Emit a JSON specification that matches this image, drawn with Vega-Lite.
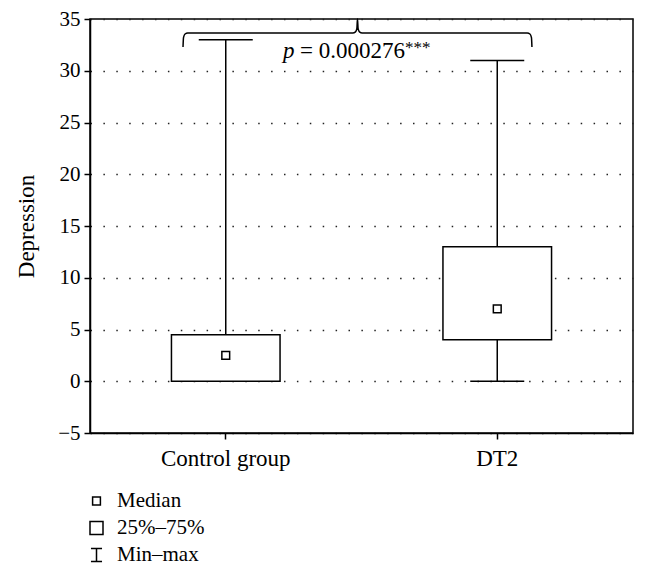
{
  "$schema": "https://vega.github.io/schema/vega-lite/v6.json",
  "width": 543,
  "height": 414,
  "autosize": {"type": "none"},
  "padding": {"left": 90, "top": 19, "right": 15, "bottom": 142},
  "background": "white",
  "config": {
    "view": {"stroke": "black", "strokeWidth": 1.5},
    "font": "Liberation Serif",
    "axis": {
      "labelFont": "Liberation Serif", "labelFontSize": 21, "labelColor": "black",
      "tickColor": "black", "tickWidth": 1.5, "tickSize": 6,
      "domainColor": "black", "domainWidth": 1.5,
      "titleFont": "Liberation Serif", "titleFontSize": 23, "titleFontWeight": "normal", "titleColor": "black"
    }
  },
  "datasets": {
    "boxes": [
      {"group": "Control group", "stat": "Median", "min": 0, "q1": 0, "median": 2.5, "q3": 4.5, "max": 33},
      {"group": "DT2", "stat": "Median", "min": 0, "q1": 4, "median": 7, "q3": 13, "max": 31}
    ],
    "brace": [
      {"bx": 0.1713, "by": 32.3},
      {"bx": 0.1722, "by": 33.2},
      {"bx": 0.1750, "by": 33.55},
      {"bx": 0.1800, "by": 33.65},
      {"bx": 0.4840, "by": 33.65},
      {"bx": 0.4890, "by": 33.75},
      {"bx": 0.4915, "by": 34.1},
      {"bx": 0.4926, "by": 35.0},
      {"bx": 0.4937, "by": 34.1},
      {"bx": 0.4962, "by": 33.75},
      {"bx": 0.5012, "by": 33.65},
      {"bx": 0.8052, "by": 33.65},
      {"bx": 0.8102, "by": 33.55},
      {"bx": 0.8130, "by": 33.2},
      {"bx": 0.8139, "by": 32.3}
    ]
  },
  "layer": [
    {
      "data": {"name": "boxes"},
      "encoding": {
        "x": {
          "field": "group", "type": "nominal", "sort": null,
          "scale": {"type": "band", "paddingInner": 0.6, "paddingOuter": 0.3},
          "axis": {"title": null, "labelAngle": 0, "labelPadding": 8, "labelFontSize": 23, "grid": false}
        }
      },
      "layer": [
        {
          "mark": {"type": "rule", "color": "black", "strokeWidth": 1.5},
          "encoding": {
            "y": {
              "field": "min", "type": "quantitative", "title": "Depression",
              "scale": {"domain": [-5, 35], "nice": false, "zero": false},
              "axis": {
                "values": [-5, 0, 5, 10, 15, 20, 25, 30, 35],
                "grid": true, "gridColor": "#222", "gridWidth": 1.5, "gridDash": [1.5, 11.4],
                "titlePadding": 19, "labelPadding": 4
              }
            },
            "y2": {"field": "max"}
          }
        },
        {
          "mark": {"type": "tick", "color": "black", "thickness": 1.5, "size": 54, "opacity": 1},
          "encoding": {
            "y": {"field": "max", "type": "quantitative", "title": "Depression", "scale": {"domain": [-5, 35], "nice": false, "zero": false}}
          }
        },
        {
          "mark": {"type": "tick", "color": "black", "thickness": 1.5, "size": 54, "opacity": 1},
          "encoding": {
            "y": {"field": "min", "type": "quantitative", "title": "Depression", "scale": {"domain": [-5, 35], "nice": false, "zero": false}}
          }
        },
        {
          "mark": {"type": "bar", "fill": "white", "stroke": "black", "strokeWidth": 1.5, "opacity": 1},
          "encoding": {
            "y": {"field": "q1", "type": "quantitative", "title": "Depression", "scale": {"domain": [-5, 35], "nice": false, "zero": false}},
            "y2": {"field": "q3"}
          }
        },
        {
          "mark": {"type": "point", "filled": false, "color": "black", "strokeWidth": 1.5, "size": 169, "opacity": 1},
          "encoding": {
            "y": {"field": "median", "type": "quantitative", "title": "Depression", "scale": {"domain": [-5, 35], "nice": false, "zero": false}},
            "shape": {
              "field": "stat", "type": "nominal",
              "scale": {
                "domain": ["Median", "25%–75%", "Min–max"],
                "range": [
                  "M-0.6,-0.6L0.6,-0.6L0.6,0.6L-0.6,0.6Z",
                  "square",
                  "M-0.85,-1L0.85,-1M0,-1L0,1M-0.85,1L0.85,1"
                ]
              },
              "legend": {
                "title": null,
                "orient": "none", "legendX": -4, "legendY": 471.5, "padding": 0,
                "labelFont": "Liberation Serif", "labelFontSize": 21, "labelColor": "black",
                "symbolStrokeColor": "black", "symbolStrokeWidth": 1.5,
                "symbolSize": 169, "rowPadding": 5, "labelOffset": 10
              }
            }
          }
        }
      ]
    },
    {
      "data": {"name": "brace"},
      "mark": {"type": "line", "color": "black", "strokeWidth": 1.5, "interpolate": "monotone"},
      "encoding": {
        "x": {"field": "bx", "type": "quantitative", "scale": {"domain": [0, 1], "nice": false, "zero": false}, "axis": null},
        "y": {"field": "by", "type": "quantitative", "title": "Depression", "scale": {"domain": [-5, 35], "nice": false, "zero": false}}
      }
    },
    {
      "data": {"values": [{"tx": 0.3554, "ty": 31.23, "t": "p"}]},
      "mark": {"type": "text", "align": "left", "baseline": "alphabetic", "font": "Liberation Serif", "fontSize": 23, "fontStyle": "italic", "color": "black"},
      "encoding": {
        "x": {"field": "tx", "type": "quantitative", "scale": {"domain": [0, 1], "nice": false, "zero": false}, "axis": null},
        "y": {"field": "ty", "type": "quantitative", "title": "Depression", "scale": {"domain": [-5, 35], "nice": false, "zero": false}},
        "text": {"field": "t"}
      }
    },
    {
      "data": {"values": [{"tx": 0.3867, "ty": 31.23, "t": "= 0.000276"}]},
      "mark": {"type": "text", "align": "left", "baseline": "alphabetic", "font": "Liberation Serif", "fontSize": 23, "color": "black"},
      "encoding": {
        "x": {"field": "tx", "type": "quantitative", "scale": {"domain": [0, 1], "nice": false, "zero": false}, "axis": null},
        "y": {"field": "ty", "type": "quantitative", "title": "Depression", "scale": {"domain": [-5, 35], "nice": false, "zero": false}},
        "text": {"field": "t"}
      }
    },
    {
      "data": {"values": [{"tx": 0.5801, "ty": 31.7, "t": "***"}]},
      "mark": {"type": "text", "align": "left", "baseline": "alphabetic", "font": "Liberation Serif", "fontSize": 17, "color": "black"},
      "encoding": {
        "x": {"field": "tx", "type": "quantitative", "scale": {"domain": [0, 1], "nice": false, "zero": false}, "axis": null},
        "y": {"field": "ty", "type": "quantitative", "title": "Depression", "scale": {"domain": [-5, 35], "nice": false, "zero": false}},
        "text": {"field": "t"}
      }
    }
  ],
  "resolve": {"scale": {"x": "independent"}, "axis": {"x": "independent"}}
}
